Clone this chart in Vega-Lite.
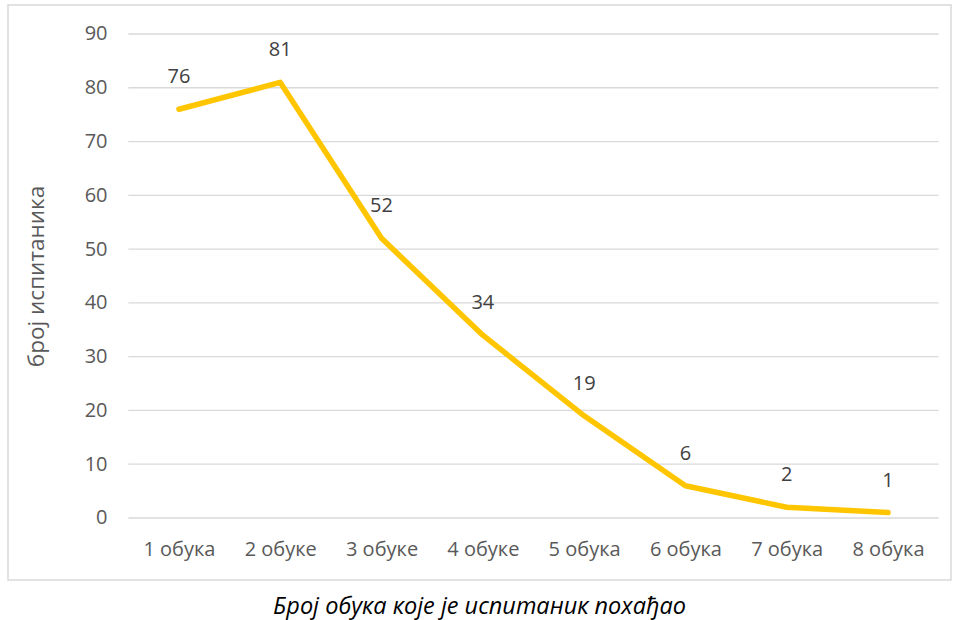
{
  "$schema": "https://vega.github.io/schema/vega-lite/v6.json",
  "width": 943,
  "height": 575,
  "autosize": "none",
  "padding": {"left": 8, "top": 5, "right": 8, "bottom": 40},
  "background": "white",
  "config": {
    "view": {"stroke": "#d9d9d9", "strokeWidth": 1.5},
    "font": "Open Sans"
  },
  "title": {
    "text": "Број обука које је испитаник похађао",
    "orient": "bottom",
    "fontStyle": "italic",
    "fontWeight": "normal",
    "fontSize": 23.5,
    "color": "#000000",
    "font": "Open Sans",
    "offset": 15
  },
  "datasets": {
    "main": [
      {"broj": 1, "k": "1 обука", "n": 76},
      {"broj": 2, "k": "2 обуке", "n": 81},
      {"broj": 3, "k": "3 обуке", "n": 52},
      {"broj": 4, "k": "4 обуке", "n": 34},
      {"broj": 5, "k": "5 обука", "n": 19},
      {"broj": 6, "k": "6 обука", "n": 6},
      {"broj": 7, "k": "7 обука", "n": 2},
      {"broj": 8, "k": "8 обука", "n": 1}
    ],
    "grid": [
      {"v": 0}, {"v": 10}, {"v": 20}, {"v": 30}, {"v": 40},
      {"v": 50}, {"v": 60}, {"v": 70}, {"v": 80}, {"v": 90}
    ]
  },
  "layer": [
    {
      "data": {"name": "grid"},
      "mark": {"type": "rule", "stroke": "#d9d9d9", "strokeWidth": 1.3},
      "encoding": {
        "y": {"field": "v", "type": "quantitative", "scale": {"domain": [-11.53, 95.39], "nice": false, "zero": false}, "axis": {
          "values": [0, 10, 20, 30, 40, 50, 60, 70, 80, 90],
          "offset": -110,
          "domain": false,
          "ticks": false,
          "grid": false,
          "labelPadding": 11,
          "labelFontSize": 20,
          "labelColor": "#595959",
          "title": "број испитаника",
          "titleFontSize": 22.5,
          "titleFontWeight": "normal",
          "titleColor": "#595959",
          "titleX": -82,
          "titleY": 271,
          "titleAngle": -90,
          "titleAlign": "center",
          "titleBaseline": "middle"
        }},
        "x": {"datum": 0.5, "type": "quantitative", "scale": {"domain": [-0.688, 8.622], "nice": false, "zero": false}, "axis": {
          "values": [1, 2, 3, 4, 5, 6, 7, 8],
          "labelExpr": "datum.value >= 2 && datum.value <= 4 ? datum.value + ' обуке' : datum.value + ' обука'",
          "offset": -45,
          "domain": false,
          "ticks": false,
          "grid": false,
          "labelPadding": 4,
          "labelFontSize": 20,
          "labelColor": "#595959",
          "labelAngle": 0,
          "labelFlush": false,
          "title": null
        }},
        "x2": {"datum": 8.5}
      }
    },
    {
      "data": {"name": "main"},
      "layer": [
        {
          "mark": {"type": "line", "stroke": "#FFC600", "strokeWidth": 5.5, "strokeCap": "round", "strokeJoin": "round"},
          "encoding": {
            "x": {"field": "broj", "type": "quantitative"},
            "y": {"field": "n", "type": "quantitative"}
          }
        },
        {
          "mark": {"type": "text", "dy": -32, "fontSize": 20, "color": "#404040", "baseline": "middle"},
          "encoding": {
            "x": {"field": "broj", "type": "quantitative"},
            "y": {"field": "n", "type": "quantitative"},
            "text": {"field": "n"}
          }
        }
      ]
    }
  ]
}
